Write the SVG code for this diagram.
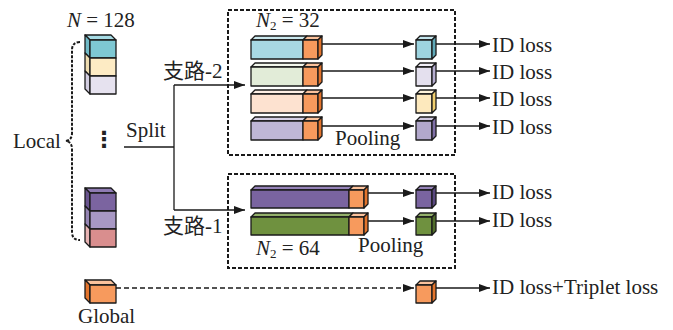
<svg xmlns="http://www.w3.org/2000/svg" width="673" height="330" viewBox="0 0 673 330">
<style>
.s{stroke:#1a1a1a;stroke-width:1.3;stroke-linejoin:round}
.t{font-family:"Liberation Serif","Noto Sans CJK SC",serif;font-size:21px;fill:#222}
.i{font-style:italic}
.ln{fill:none;stroke:#1a1a1a;stroke-width:1.3}
.dash{fill:none;stroke:#1a1a1a;stroke-width:2;stroke-dasharray:4 2}
.or{fill:#f79a5d}.ort{fill:#fbc29c}.ors{fill:#e3742c}
</style>
<defs>
<marker id="ah" markerUnits="userSpaceOnUse" markerWidth="12" markerHeight="8" refX="11" refY="4" orient="auto">
<path d="M0,0 L11,4 L0,8 z" fill="#1a1a1a"/>
</marker>
</defs>
<rect width="673" height="330" fill="#fff"/>

<!-- Left stack (Local) -->
<g id="local-stack-top">
<text class="t" x="67" y="27"><tspan class="i">N</tspan> = 128</text>
<polygon class="s" points="90,40 116,40 111,35 85,35" fill="#a6dbe4"/>
<polygon class="s" points="85,35 90,40 90,58 85,53" fill="#6fb9c6"/>
<rect class="s" x="90" y="40" width="26" height="18" fill="#7ec8d3"/>
<polygon class="s" points="85,53 90,58 90,76 85,71" fill="#eedcb0"/>
<rect class="s" x="90" y="58" width="26" height="18" fill="#fdebc4"/>
<polygon class="s" points="85,71 90,76 90,94 85,89" fill="#d2cde0"/>
<rect class="s" x="90" y="76" width="26" height="18" fill="#e6e2ef"/>
</g>
<g id="local-stack-bottom">
<polygon class="s" points="90,193 116,193 111,188 85,188" fill="#8f7bb3"/>
<polygon class="s" points="85,188 90,193 90,211 85,206" fill="#6a558f"/>
<rect class="s" x="90" y="193" width="26" height="18" fill="#7b64a0"/>
<polygon class="s" points="85,206 90,211 90,229 85,224" fill="#9484b3"/>
<rect class="s" x="90" y="211" width="26" height="18" fill="#a898c4"/>
<polygon class="s" points="85,224 90,229 90,247 85,242" fill="#e8b4b4"/>
<rect class="s" x="90" y="229" width="26" height="18" fill="#d98e8e"/>
</g>
<g id="local-label">
<path d="M80,42 Q72,42 72,50 L72,133 Q72,140 66,141 Q72,142 72,149 L72,232 Q72,240 80,240" fill="none" stroke="#1a1a1a" stroke-width="2" stroke-dasharray="3 1.5"/>
<text class="t" x="13" y="148">Local</text>
<text x="104" y="147" font-family="DejaVu Sans,sans-serif" font-size="22" font-weight="bold" fill="#222" text-anchor="middle">⋮</text>
</g>

<!-- Global -->
<g id="global">
<polygon class="s ort" points="90,285 116,285 111,280 85,280"/>
<polygon class="s ors" points="85,280 90,285 90,303 85,298"/>
<rect class="s or" x="90" y="285" width="26" height="18"/>
<text class="t" x="78" y="323">Global</text>
</g>

<!-- Branch 2 box -->
<g id="branch2">
<rect class="dash" x="228" y="10" width="227" height="145"/>
<text class="t" x="256" y="27"><tspan class="i">N</tspan><tspan font-size="13" dy="3">2</tspan><tspan dy="-3"> = 32</tspan></text>
<polygon class="s" points="251,40 303,40 307,36 255,36" fill="#cbe9ef"/>
<rect class="s" x="251" y="40" width="52" height="19" fill="#a8d8e3"/>
<polygon class="s ort" points="303,40 318,40 322,36 307,36"/>
<rect class="s or" x="303" y="40" width="15" height="19"/>
<polygon class="s ors" points="318,40 322,36 322,55 318,59"/>
<polygon class="s" points="251,67 303,67 307,63 255,63" fill="#f2f6ec"/>
<rect class="s" x="251" y="67" width="52" height="19" fill="#e2ecd8"/>
<polygon class="s ort" points="303,67 318,67 322,63 307,63"/>
<rect class="s or" x="303" y="67" width="15" height="19"/>
<polygon class="s ors" points="318,67 322,63 322,82 318,86"/>
<polygon class="s" points="251,94 303,94 307,90 255,90" fill="#fef0e6"/>
<rect class="s" x="251" y="94" width="52" height="19" fill="#fde2d0"/>
<polygon class="s ort" points="303,94 318,94 322,90 307,90"/>
<rect class="s or" x="303" y="94" width="15" height="19"/>
<polygon class="s ors" points="318,94 322,90 322,109 318,113"/>
<polygon class="s" points="251,121 303,121 307,117 255,117" fill="#d6d0e6"/>
<rect class="s" x="251" y="121" width="52" height="19" fill="#bfb7d6"/>
<polygon class="s ort" points="303,121 318,121 322,117 307,117"/>
<rect class="s or" x="303" y="121" width="15" height="19"/>
<polygon class="s ors" points="318,121 322,117 322,136 318,140"/>
<polygon class="s" points="416,40 432,40 436,36 420,36" fill="#c4e6ee"/>
<rect class="s" x="416" y="40" width="16" height="19" fill="#9dd4e0"/>
<polygon class="s" points="432,40 436,36 436,55 432,59" fill="#5fa9b8"/>
<polygon class="s" points="416,67 432,67 436,63 420,63" fill="#f2f0f7"/>
<rect class="s" x="416" y="67" width="16" height="19" fill="#e4e0ee"/>
<polygon class="s" points="432,67 436,63 436,82 432,86" fill="#b6aed0"/>
<polygon class="s" points="416,94 432,94 436,90 420,90" fill="#fef4dc"/>
<rect class="s" x="416" y="94" width="16" height="19" fill="#fde9bd"/>
<polygon class="s" points="432,94 436,90 436,109 432,113" fill="#f1cf6e"/>
<polygon class="s" points="416,121 432,121 436,117 420,117" fill="#cfc8e0"/>
<rect class="s" x="416" y="121" width="16" height="19" fill="#b2a8cc"/>
<polygon class="s" points="432,121 436,117 436,136 432,140" fill="#7f6fa6"/>
<text class="t" x="335" y="145">Pooling</text>
</g>

<!-- Branch 1 box -->
<g id="branch1">
<rect class="dash" x="228" y="174" width="227" height="94"/>
<polygon class="s" points="251,190 349,190 353,186 255,186" fill="#9583b8"/>
<rect class="s" x="251" y="190" width="98" height="18" fill="#7a64a0"/>
<polygon class="s ort" points="349,190 364,190 368,186 353,186"/>
<rect class="s or" x="349" y="190" width="15" height="18"/>
<polygon class="s ors" points="364,190 368,186 368,204 364,208"/>
<polygon class="s" points="251,217 349,217 353,213 255,213" fill="#93b06a"/>
<rect class="s" x="251" y="217" width="98" height="18" fill="#6f913f"/>
<polygon class="s ort" points="349,217 364,217 368,213 353,213"/>
<rect class="s or" x="349" y="217" width="15" height="18"/>
<polygon class="s ors" points="364,217 368,213 368,231 364,235"/>
<polygon class="s" points="416,190 432,190 436,186 420,186" fill="#9583b8"/>
<rect class="s" x="416" y="190" width="16" height="18" fill="#7a64a0"/>
<polygon class="s" points="432,190 436,186 436,204 432,208" fill="#5a4880"/>
<polygon class="s" points="416,217 432,217 436,213 420,213" fill="#93b06a"/>
<rect class="s" x="416" y="217" width="16" height="18" fill="#6f913f"/>
<polygon class="s" points="432,217 436,213 436,231 432,235" fill="#506d2b"/>
<text class="t" x="256" y="255"><tspan class="i">N</tspan><tspan font-size="13" dy="3">2</tspan><tspan dy="-3"> = 64</tspan></text>
<text class="t" x="358" y="252">Pooling</text>
</g>

<!-- Global pooled cube -->
<g id="global-pooled">
<polygon class="s ort" points="416,285 432,285 436,281 420,281"/>
<rect class="s or" x="416" y="285" width="16" height="18"/>
<polygon class="s ors" points="432,285 436,281 436,299 432,303"/>
</g>

<!-- Labels -->
<g id="labels">
<text class="t" x="126" y="137">Split</text>
<text class="t" x="163" y="78">支路-2</text>
<text class="t" x="163" y="233">支路-1</text>
<text class="t" x="492" y="52">ID loss</text>
<text class="t" x="492" y="79">ID loss</text>
<text class="t" x="492" y="106">ID loss</text>
<text class="t" x="492" y="134">ID loss</text>
<text class="t" x="492" y="199">ID loss</text>
<text class="t" x="492" y="227">ID loss</text>
<text class="t" x="492" y="294">ID loss+Triplet loss</text>
</g>

<!-- Connectors -->
<g id="connectors">
<path class="ln" d="M124,147 H174"/>
<path class="ln" d="M174,85 V210"/>
<path class="ln" d="M174,85 H245" marker-end="url(#ah)"/>
<path class="ln" d="M174,210 H245" marker-end="url(#ah)"/>
<path class="ln" d="M322,44 H414" marker-end="url(#ah)"/>
<path class="ln" d="M322,71 H414" marker-end="url(#ah)"/>
<path class="ln" d="M322,98 H414" marker-end="url(#ah)"/>
<path class="ln" d="M322,126 H414" marker-end="url(#ah)"/>
<path class="ln" d="M368,193 H414" marker-end="url(#ah)"/>
<path class="ln" d="M368,221 H414" marker-end="url(#ah)"/>
<path class="ln" d="M116,288 H414" stroke-dasharray="5 3" marker-end="url(#ah)"/>
<path class="ln" d="M436,44 H490" marker-end="url(#ah)"/>
<path class="ln" d="M436,71 H490" marker-end="url(#ah)"/>
<path class="ln" d="M436,98 H490" marker-end="url(#ah)"/>
<path class="ln" d="M436,126 H490" marker-end="url(#ah)"/>
<path class="ln" d="M436,193 H490" marker-end="url(#ah)"/>
<path class="ln" d="M436,221 H490" marker-end="url(#ah)"/>
<path class="ln" d="M436,288 H490" marker-end="url(#ah)"/>
</g>
</svg>
